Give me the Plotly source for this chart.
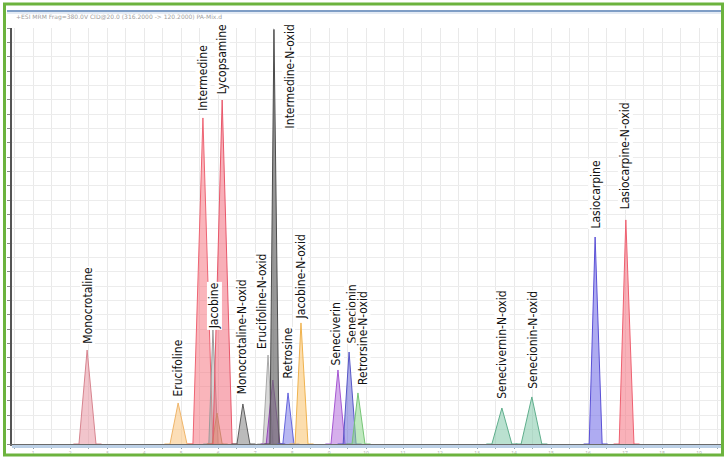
import plotly.graph_objects as go

# ---- data ----
compounds = ["Monocrotaline", "Erucifoline", "Intermedine", "Jacobine", "", "Lycopsamine",
             "Monocrotaline-N-oxid", "Erucifoline-N-oxid", "", "Intermedine-N-oxid",
             "Retrosine", "Jacobine-N-oxid", "Seneciverin", "Senecionin", "Retrorsine-N-oxid",
             "Senecivernin-N-oxid", "Senecionin-N-oxid", "Lasiocarpine", "Lasiocarpine-N-oxid"]
peak_start = [2.24, 4.70, 5.32, 5.75, 5.84, 5.86, 6.51, 7.21, 7.30, 7.40,
              7.75, 8.08, 9.05, 9.38, 9.62, 13.40, 14.19, 16.03, 16.84]
peak_apex = [2.46, 4.92, 5.59, 5.86, 5.97, 6.11, 6.67, 7.35, 7.48, 7.51,
             7.89, 8.24, 9.24, 9.54, 9.78, 13.67, 14.48, 16.19, 17.02]
peak_end = [2.70, 5.16, 5.86, 6.00, 6.11, 6.38, 6.86, 7.48, 7.67, 7.65,
            8.05, 8.43, 9.43, 9.73, 9.97, 13.94, 14.75, 16.38, 17.24]
peak_height = [0.655, 0.286, 2.273, 0.795, 0.216, 2.398, 0.279, 0.620, 0.446, 2.89,
               0.356, 0.844, 0.516, 0.641, 0.356, 0.251, 0.328, 1.443, 1.562]

# ---- styles ----
line_colors = ["#d7848f", "#efb56a", "#ee6473", "#9a9a9a", "#a3a45a", "#e8576a",
               "#5e5e5e", "#a8a8a8", "#9444b8", "#4c4c4c",
               "#6464dc", "#efb24e", "#a557d2", "#5656c6", "#76c476",
               "#5fae8c", "#5fae8c", "#5a50d6", "#ee6070"]
fill_colors = ["rgba(232,150,162,0.55)", "rgba(250,200,135,0.6)", "rgba(245,120,132,0.55)",
               "rgba(170,170,170,0.5)", "rgba(190,190,110,0.5)", "rgba(242,110,125,0.55)",
               "rgba(120,120,120,0.5)", "rgba(180,180,180,0.5)", "rgba(160,90,200,0.55)",
               "rgba(110,110,110,0.7)", "rgba(125,125,232,0.55)", "rgba(250,200,120,0.6)",
               "rgba(180,110,220,0.55)", "rgba(110,110,215,0.55)", "rgba(140,215,140,0.55)",
               "rgba(130,200,170,0.55)", "rgba(130,200,170,0.55)", "rgba(120,115,232,0.6)",
               "rgba(245,125,138,0.6)"]
# label offsets in pixels: (vertical gap above apex, horizontal shift)
label_gap = [5, 5, 6, 0, 0, 5, 9, 5, 0, -100, 13, 3, 4, 7, 7, 8, 7, 7, 10]
label_dx = [0, 0, 0, 2, 0, 0, 0, -6, 0, 16, 0, 0, -1, 2, 5, 0, 1, 0, 0]

W, H = 726, 458
ML, MR, MT, MB = 12, 4, 28, 14
PW, PH = W - ML - MR, H - MT - MB


def px(x):
    return (x - ML) / PW


def py(y):
    return (H - MB - y) / PH


fig = go.Figure()
for i in range(len(compounds)):
    fig.add_trace(go.Scatter(
        x=[peak_start[i] - 0.15, peak_start[i], peak_apex[i], peak_end[i], peak_end[i] + 0.15],
        y=[0, 0, peak_height[i], 0, 0],
        mode="lines", fill="toself", fillcolor=fill_colors[i],
        line=dict(color=line_colors[i], width=1),
        hoverinfo="skip", showlegend=False))

for i, name in enumerate(compounds):
    if not name:
        continue
    fig.add_annotation(
        x=peak_apex[i], y=min(peak_height[i], 2.9), xref="x", yref="y",
        text=name, textangle=-90, showarrow=False,
        xanchor="center", yanchor="bottom",
        yshift=label_gap[i], xshift=label_dx[i],
        bgcolor="white", borderpad=0,
        font=dict(family="Liberation Sans Narrow, DejaVu Sans Condensed, Arial Narrow, sans-serif",
                  size=12, color="#111"))

# header text
fig.add_annotation(x=px(14), y=py(17), xref="paper", yref="paper", showarrow=False,
                   xanchor="left", yanchor="middle",
                   text="+ESI MRM Frag=380.0V CID@20.0 (316.2000 -> 120.2000) PA-Mix.d",
                   font=dict(family="DejaVu Sans", size=6, color="#a0a0a0"))

shapes = [
    # outer green frame
    dict(type="rect", xref="paper", yref="paper", x0=px(4.5), x1=px(722.5), y0=py(455), y1=py(4),
         line=dict(color="#6cb33e", width=3)),
    # blue header line
    dict(type="line", xref="paper", yref="paper", x0=px(7), x1=px(721), y0=py(11), y1=py(11),
         line=dict(color="#7f9ec6", width=2)),
    dict(type="line", xref="paper", yref="paper", x0=px(7), x1=px(721), y0=py(13), y1=py(13),
         line=dict(color="#c9d7ea", width=1)),
    # light blue band under baseline
    dict(type="line", xref="paper", yref="paper", x0=px(12), x1=px(721), y0=py(446.5), y1=py(446.5),
         line=dict(color="#bcd0e6", width=3)),
]
fig.update_layout(shapes=shapes)

fig.update_xaxes(range=[0.43, 0.43 + PW / 37], dtick=1, tick0=0, automargin=False,
                 showgrid=True, gridcolor="#e9e9e9", gridwidth=1,
                 minor=dict(dtick=0.5, showgrid=True, gridcolor="#e9e9e9", ticks="outside",
                            ticklen=3, tickcolor="#9aa"),
                 ticks="outside", ticklen=3, tickcolor="#8a9aaa",
                 showline=True, linecolor="#6a6a6a", linewidth=2,
                 tickfont=dict(size=5, color="#b0b0b0"), zeroline=False)
fig.update_yaxes(range=[0, 2.9], dtick=0.1, showticklabels=False, automargin=False,
                 showgrid=True, gridcolor="#ececec", gridwidth=1,
                 ticks="outside", ticklen=3, tickcolor="#888",
                 showline=True, linecolor="#555", linewidth=2, zeroline=False)

fig.update_layout(width=W, height=H, margin=dict(l=ML, r=MR, t=MT, b=MB, autoexpand=False),
                  paper_bgcolor="white", plot_bgcolor="white")

fig.write_html("out.html", config={"displayModeBar": False},
               post_script="document.body.style.margin='0';document.body.style.overflow='hidden';")
